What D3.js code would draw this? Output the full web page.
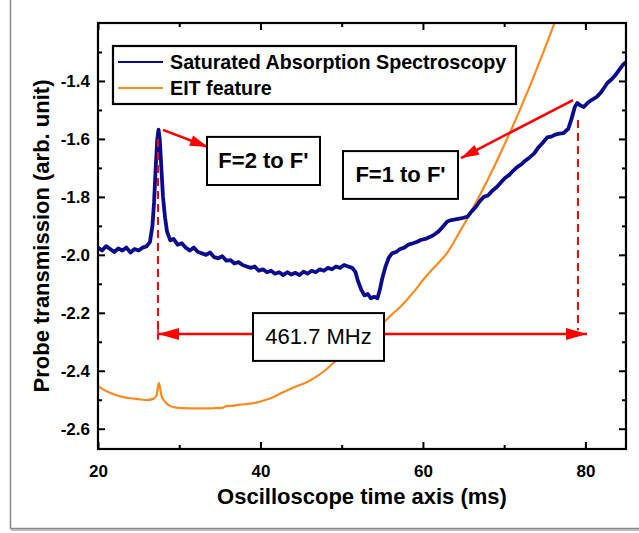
<!DOCTYPE html>
<html lang="en">
<head>
  <meta charset="UTF-8">
  <title>SAS and EIT</title>
  <style>
    body { margin: 0; background: #fff; }
    svg { font-family: Arial, "Liberation Sans", sans-serif; }
    .tick text { font-size: 17px; font-weight: bold; fill: #000; }
    .tick line { stroke: #000; stroke-width: 2px; }
    .domain { display: none; }
  </style>
</head>
<body>
  <svg width="639" height="533"></svg>
  <script src="https://cdn.jsdelivr.net/npm/d3@7/dist/d3.min.js"></script>
  <script>
    // saturated absorption spectroscopy trace (time in ms, transmission)
    var sasX = [20.0, 20.5, 21.0, 21.5, 22.0, 22.5, 23.0, 23.5, 24.0, 24.5, 25.0, 25.5, 26.0, 26.4, 26.7, 26.9, 27.1, 27.3, 27.45, 27.6, 27.8, 28.0, 28.25, 28.5, 28.9,
      29.3, 29.8, 30.3, 30.8, 31.3, 31.8, 32.3, 32.8, 33.3, 33.8, 34.3, 34.8, 35.3, 35.8, 36.3, 36.8, 37.3, 37.8, 38.3, 38.8, 39.3, 39.8, 40.3, 40.8,
      41.3, 41.8, 42.3, 42.8, 43.3, 43.8, 44.3, 44.8, 45.3, 45.8, 46.3, 46.8, 47.3, 47.8, 48.3, 48.8, 49.3, 49.8, 50.3, 50.8, 51.3, 51.7, 52.0, 52.4,
      52.8, 53.2, 53.6, 54.0, 54.4, 54.7, 55.0, 55.4, 55.8, 56.2, 56.7, 57.2, 57.7, 58.2, 58.8, 59.3, 59.8, 60.3, 60.9, 61.4, 61.9, 62.4, 63.0, 63.5,
      64.0, 64.5, 65.0, 65.5, 66.0, 66.5, 67.0, 67.5, 68.0, 68.5, 69.1, 69.6, 70.1, 70.6, 71.1, 71.6, 72.1, 72.6, 73.2, 73.7, 74.2, 74.7, 75.3, 75.8,
      76.3, 76.8, 77.3, 77.9, 78.3, 78.7, 79.0, 79.4, 79.8, 80.3, 80.8, 81.4, 81.9, 82.4, 82.7, 83.2, 83.7, 84.2, 84.6, 85.0]
    var sasY = [-1.975, -1.985, -1.970, -1.980, -1.990, -1.978, -1.985, -1.975, -1.992, -1.980, -1.985, -1.975, -1.970, -1.955, -1.90, -1.82, -1.70, -1.60, -1.568, -1.60, -1.70, -1.80, -1.87, -1.92, -1.95,
      -1.945, -1.965, -1.960, -1.975, -1.985, -1.975, -1.990, -1.995, -2.000, -1.992, -2.008, -2.012, -2.005, -2.020, -2.018, -2.030, -2.025, -2.035, -2.040, -2.045, -2.040, -2.055, -2.050, -2.060,
      -2.055, -2.065, -2.060, -2.070, -2.060, -2.068, -2.062, -2.070, -2.058, -2.065, -2.055, -2.060, -2.050, -2.055, -2.045, -2.050, -2.040, -2.045, -2.035, -2.040, -2.045, -2.060, -2.090, -2.120,
      -2.140, -2.135, -2.150, -2.145, -2.150, -2.120, -2.080, -2.040, -2.010, -1.995, -1.990, -1.980, -1.975, -1.965, -1.960, -1.955, -1.948, -1.945, -1.938, -1.930, -1.920, -1.905, -1.885, -1.880,
      -1.878, -1.875, -1.872, -1.868, -1.850, -1.835, -1.815, -1.800, -1.795, -1.780, -1.766, -1.750, -1.735, -1.725, -1.710, -1.697, -1.688, -1.675, -1.662, -1.650, -1.630, -1.615, -1.595, -1.592,
      -1.585, -1.582, -1.580, -1.565, -1.530, -1.490, -1.476, -1.485, -1.490, -1.475, -1.465, -1.455, -1.440, -1.420, -1.407, -1.395, -1.380, -1.360, -1.345, -1.335]

    // EIT feature trace
    var eitX = [20.0, 21.0, 22.0, 23.0, 24.0, 25.0, 26.0, 26.8, 27.2, 27.5, 27.8, 28.2, 28.9, 29.6, 30.5, 31.5, 32.5, 33.5, 34.5, 35.3, 35.8, 36.5, 37.5,
      38.5, 39.5, 40.5, 41.5, 42.5, 43.6, 44.6, 45.7, 46.8, 47.9, 48.9, 49.9, 50.9, 51.9, 53.0, 54.0, 55.1, 56.1, 57.2, 58.2, 59.1, 60.0, 61.0, 62.0,
      62.96, 64.56, 65.8, 67.03, 68.26, 69.49, 70.72, 71.95, 73.18, 74.41, 75.64, 76.87]
    var eitY = [-2.453, -2.470, -2.482, -2.490, -2.495, -2.498, -2.501, -2.497, -2.485, -2.442, -2.485, -2.505, -2.522, -2.527, -2.529, -2.530, -2.530, -2.530, -2.529, -2.528, -2.522, -2.521, -2.517,
      -2.514, -2.510, -2.502, -2.492, -2.478, -2.464, -2.452, -2.440, -2.422, -2.400, -2.375, -2.350, -2.327, -2.304, -2.280, -2.258, -2.235, -2.208, -2.180, -2.150, -2.120, -2.087, -2.055, -2.025,
      -1.994, -1.919, -1.858, -1.793, -1.725, -1.653, -1.578, -1.499, -1.417, -1.331, -1.242, -1.150]

    var xTicks = [20, 40, 60, 80]
    var xMinor = [30, 50, 70]
    var yTicks = [-2.6, -2.4, -2.2, -2.0, -1.8, -1.6, -1.4]
    var yMinor = [-2.5, -2.3, -2.1, -1.9, -1.7, -1.5, -1.3]

    var seriesNames = ['Saturated Absorption Spectroscopy', 'EIT feature']
    var seriesColors = ['#0b0b8f', '#ff8a1c']

    var svg = d3.select('svg')
    var pLeft = 98, pRight = 626, pTop = 23, pBottom = 449
    var width = pRight - pLeft
    var height = pBottom - pTop

    // outer frame
    svg.append('path')
      .attr('d', 'M10.5,0V528.5H639')
      .attr('fill', 'none')
      .attr('stroke', '#888')
      .attr('stroke-width', 1.5)
    svg.append('line')
      .attr('x1', 11).attr('x2', 639).attr('y1', 530).attr('y2', 530)
      .attr('stroke', '#bbb').attr('stroke-width', 2)

    var x = d3.scaleLinear().domain([20, 85]).range([0, width])
    var y = d3.scaleLinear().domain([-2.67, -1.2]).range([height, 0])

    var g = svg.append('g').attr('transform', 'translate(' + pLeft + ',' + pTop + ')')

    g.append('clipPath').attr('id', 'clip')
      .append('rect').attr('width', width).attr('height', height)

    // axes with inward ticks
    g.append('g')
      .attr('transform', 'translate(0,' + height + ')')
      .call(d3.axisBottom(x).tickValues(xTicks).tickSize(-7).tickPadding(16).tickFormat(d3.format('d')))
    g.append('g')
      .attr('transform', 'translate(0,' + height + ')')
      .call(d3.axisBottom(x).tickValues(xMinor).tickSize(-4).tickFormat(''))
    g.append('g')
      .call(d3.axisTop(x).tickValues(xTicks).tickSize(-7).tickFormat(''))
    g.append('g')
      .call(d3.axisTop(x).tickValues(xMinor).tickSize(-4).tickFormat(''))
    g.append('g')
      .call(d3.axisLeft(y).tickValues(yTicks).tickSize(-7).tickPadding(8).tickFormat(d3.format('.1f')))
    g.append('g')
      .call(d3.axisLeft(y).tickValues(yMinor).tickSize(-4).tickFormat(''))
    g.append('g')
      .attr('transform', 'translate(' + width + ',0)')
      .call(d3.axisRight(y).tickValues(yTicks).tickSize(-7).tickFormat(''))
    g.append('g')
      .attr('transform', 'translate(' + width + ',0)')
      .call(d3.axisRight(y).tickValues(yMinor).tickSize(-4).tickFormat(''))

    g.selectAll('.tick text').text(function() {
      return this.textContent.replace('\u2212', '-')
    })

    var line = d3.line()
      .x(function(d) { return x(d[0]) })
      .y(function(d) { return y(d[1]) })

    var curves = g.append('g').attr('clip-path', 'url(#clip)')
    curves.append('path')
      .datum(eitX.map(function(v, i) { return [v, eitY[i]] }))
      .attr('d', line.curve(d3.curveMonotoneX))
      .attr('fill', 'none')
      .attr('stroke', seriesColors[1])
      .attr('stroke-width', 2.2)
    curves.append('path')
      .datum(sasX.map(function(v, i) { return [v, sasY[i]] }))
      .attr('d', line.curve(d3.curveLinear))
      .attr('fill', 'none')
      .attr('stroke', seriesColors[0])
      .attr('stroke-width', 3.8)
      .attr('stroke-linejoin', 'round')

    // annotations, placed in data units
    var red = '#ff0000'
    function head(x1, y1, x2, y2, len, half) {
      var a = Math.atan2(y2 - y1, x2 - x1)
      var bx = x2 - len * Math.cos(a), by = y2 - len * Math.sin(a)
      var px = -Math.sin(a) * half, py = Math.cos(a) * half
      g.append('polygon')
        .attr('points', [[x2, y2], [bx + px, by + py], [bx - px, by - py]].join(' '))
        .attr('fill', red)
    }
    function arrow(p, q) {
      var x1 = x(p[0]), y1 = y(p[1]), x2 = x(q[0]), y2 = y(q[1])
      g.append('line')
        .attr('x1', x1).attr('y1', y1).attr('x2', x2).attr('y2', y2)
        .attr('stroke', red).attr('stroke-width', 2.5)
      head(x1, y1, x2, y2, 18, 5.5)
    }
    function dashed(xv, y1, y2) {
      g.append('line')
        .attr('x1', x(xv)).attr('x2', x(xv)).attr('y1', y(y1)).attr('y2', y(y2))
        .attr('stroke', red).attr('stroke-width', 2)
        .attr('stroke-dasharray', '8,5')
    }
    function box(x0, x1, y0, y1, label, tx, ty, weight) {
      g.append('rect')
        .attr('x', x(x0)).attr('y', y(y0))
        .attr('width', x(x1) - x(x0)).attr('height', y(y1) - y(y0))
        .attr('fill', '#fff').attr('stroke', '#000').attr('stroke-width', 2)
      g.append('text')
        .attr('x', x(tx)).attr('y', y(ty))
        .attr('text-anchor', 'middle')
        .attr('font-size', '22px')
        .attr('font-weight', weight)
        .text(label)
    }

    dashed(27.39, -1.60, -2.29)
    dashed(79.09, -1.535, -2.26)

    // frequency separation double arrow
    var sepY = -2.273
    g.append('line')
      .attr('x1', x(27.39)).attr('x2', x(80.2)).attr('y1', y(sepY)).attr('y2', y(sepY))
      .attr('stroke', red).attr('stroke-width', 2.5)
    head(x(80.2), y(sepY), x(27.39), y(sepY), 21, 6)
    head(x(27.39), y(sepY), x(80.2), y(sepY), 21, 6)
    g.append('line')
      .attr('x1', x(27.39)).attr('x2', x(27.39)).attr('y1', y(sepY) - 6).attr('y2', y(sepY) + 6)
      .attr('stroke', red).attr('stroke-width', 1.5)
    box(39.08, 55.21, -2.201, -2.366, '461.7 MHz', 47.15, -2.308, 'normal')

    arrow([28.0, -1.569], [33.54, -1.628])
    box(33.42, 47.33, -1.593, -1.759, "F=2 to F'", 40.37, -1.701, 'bold')

    arrow([78.48, -1.466], [64.69, -1.666])
    box(50.16, 64.32, -1.642, -1.807, "F=1 to F'", 57.24, -1.748, 'bold')

    // plot frame
    g.append('rect')
      .attr('width', width).attr('height', height)
      .attr('fill', 'none').attr('stroke', '#000').attr('stroke-width', 2.2)

    // legend
    var lg = svg.append('g').attr('transform', 'translate(113,46)')
    lg.append('rect')
      .attr('width', 403).attr('height', 58)
      .attr('fill', '#fff').attr('stroke', '#000').attr('stroke-width', 2.2)
    seriesNames.forEach(function(name, i) {
      lg.append('line')
        .attr('x1', 5).attr('x2', 50).attr('y1', 16 + i * 26).attr('y2', 16 + i * 26)
        .attr('stroke', seriesColors[i]).attr('stroke-width', 2)
      lg.append('text')
        .attr('x', 57).attr('y', 23 + i * 26)
        .attr('font-size', '19.7px').attr('font-weight', 'bold')
        .text(name)
    })

    // axis titles
    svg.append('text')
      .attr('x', (pLeft + pRight) / 2).attr('y', 504)
      .attr('text-anchor', 'middle')
      .attr('font-size', '22px').attr('font-weight', 'bold')
      .text('Oscilloscope time axis (ms)')
    svg.append('text')
      .attr('transform', 'translate(49,' + (pTop + pBottom) / 2 + ') rotate(-90)')
      .attr('text-anchor', 'middle')
      .attr('font-size', '22px').attr('font-weight', 'bold')
      .text('Probe transmission (arb. unit)')
  </script>
</body>
</html>
